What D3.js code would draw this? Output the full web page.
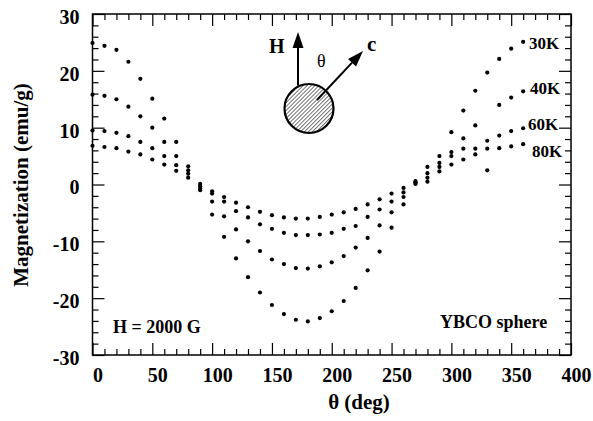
<!DOCTYPE html>
<html><head><meta charset="utf-8">
<script src="https://cdn.jsdelivr.net/npm/d3@7"></script>
<style>
body{margin:0;background:#fff;}
text{font-family:"Liberation Serif","Times New Roman",serif;font-weight:bold;fill:#000;}
</style></head>
<body><svg id="c" width="593" height="421"></svg>
<script>
const angles = [0,10,20,30,40,50,60,70,80,90,100,110,120,130,140,150,160,170,180,190,200,210,220,230,240,250,260,270,280,290,300,310,320,330,340,350,360];
const m30K = [24.9,24.4,23.7,21.6,18.6,15.1,11.6,7.5,3.2,-1.0,-5.3,-9.2,-13.0,-16.3,-19.0,-21.2,-22.8,-23.8,-24.1,-23.5,-22.3,-20.5,-18.2,-15.1,-11.8,-7.6,-3.5,0.6,3.1,5.0,9.2,13.0,16.5,19.7,22.1,23.9,25.1];
const m40K = [15.8,15.6,15.0,13.7,12.0,10.0,7.5,5.0,2.5,-0.7,-3.0,-5.6,-7.9,-10.0,-11.7,-13.2,-14.0,-14.7,-14.8,-14.4,-13.7,-12.6,-11.1,-9.4,-7.2,-4.9,-2.2,0.4,2.0,3.8,5.7,8.1,10.4,2.5,14.0,15.3,16.4];
const m60K = [9.5,9.4,9.1,8.5,7.5,6.4,5.0,3.4,1.9,-0.3,-1.6,-3.0,-4.7,-5.8,-7.0,-7.8,-8.5,-8.9,-8.9,-8.8,-8.5,-7.8,-7.3,-5.7,-4.4,-3.0,-1.4,0.3,1.2,3.1,5.0,6.3,6.3,7.7,8.6,9.4,9.9];
const m80K = [6.8,6.6,6.4,5.8,5.3,4.4,3.5,2.4,1.2,0.1,-1.2,-2.2,-3.2,-4.0,-4.8,-5.4,-5.8,-6.0,-6.0,-5.7,-5.3,-4.9,-4.3,-3.5,-2.6,-1.6,-0.6,0.1,0.5,2.3,3.5,4.4,5.3,6.3,6.4,6.7,7.1];
const seriesNames = ["30K","40K","60K","80K"];
const xTicks = [0,50,100,150,200,250,300,350,400];
const yTicks = [-30,-20,-10,0,10,20,30];

const svg = d3.select("#c");
const L=92.5,R=571,T=14,B=355;
const x = d3.scaleLinear().domain([0,400]).range([L,R]);
const y = d3.scaleLinear().domain([-30,30]).range([B,T]);
const fmt = d => String(d).replace("\u2212","-");

// frame
svg.append("rect").attr("x",L).attr("y",T).attr("width",R-L).attr("height",B-T)
  .attr("fill","none").attr("stroke","#000").attr("stroke-width",1.5);

const minorX = d3.range(0,401,10).filter(v=>v%50!==0);
const minorY = d3.range(-30,31,2).filter(v=>v%10!==0);

function styleAxis(g){ g.select(".domain").remove(); g.selectAll("line").attr("stroke","#000").attr("stroke-width",1.2); }

// bottom
svg.append("g").attr("transform",`translate(0,${B})`)
  .call(d3.axisBottom(x).tickValues(xTicks).tickFormat(fmt).tickSizeInner(-12).tickSizeOuter(0).tickPadding(13))
  .call(styleAxis)
  .call(g=>g.selectAll("text").attr("font-size",20).attr("dx",5).style("font-family","Liberation Serif").style("font-weight","bold"));
svg.append("g").attr("transform",`translate(0,${B})`)
  .call(d3.axisBottom(x).tickValues(minorX).tickFormat("").tickSizeInner(-6).tickSizeOuter(0)).call(styleAxis);
// top
svg.append("g").attr("transform",`translate(0,${T})`)
  .call(d3.axisTop(x).tickValues(xTicks).tickFormat("").tickSizeInner(-12).tickSizeOuter(0)).call(styleAxis);
svg.append("g").attr("transform",`translate(0,${T})`)
  .call(d3.axisTop(x).tickValues(minorX).tickFormat("").tickSizeInner(-6).tickSizeOuter(0)).call(styleAxis);
// left
svg.append("g").attr("transform",`translate(${L},0)`)
  .call(d3.axisLeft(y).tickValues(yTicks).tickFormat(fmt).tickSizeInner(-12).tickSizeOuter(0).tickPadding(13))
  .call(styleAxis)
  .call(g=>g.selectAll("text").attr("font-size",20).attr("dy","0.47em").style("font-family","Liberation Serif").style("font-weight","bold"));
svg.append("g").attr("transform",`translate(${L},0)`)
  .call(d3.axisLeft(y).tickValues(minorY).tickFormat("").tickSizeInner(-6).tickSizeOuter(0)).call(styleAxis);
// right
svg.append("g").attr("transform",`translate(${R},0)`)
  .call(d3.axisRight(y).tickValues(yTicks).tickFormat("").tickSizeInner(-12).tickSizeOuter(0)).call(styleAxis);
svg.append("g").attr("transform",`translate(${R},0)`)
  .call(d3.axisRight(y).tickValues(minorY).tickFormat("").tickSizeInner(-6).tickSizeOuter(0)).call(styleAxis);

// titles
svg.append("text").attr("transform","translate(28,185) rotate(-90)").attr("text-anchor","middle")
  .attr("font-size",21).text("Magnetization (emu/g)");
svg.append("text").attr("x",359).attr("y",409).attr("text-anchor","middle").attr("font-size",21).text("θ (deg)");

// data points
const allSeries = [m30K,m40K,m60K,m80K];
allSeries.forEach(vals=>{
  svg.append("g").selectAll("circle").data(angles.map((a,i)=>[a,vals[i]])).join("circle")
    .attr("cx",d=>x(d[0])).attr("cy",d=>y(d[1])).attr("r",2.1).attr("fill","#000");
});

// series labels
const labPos = [[529,48.5],[530,93.5],[528,130],[532,156.5]];
seriesNames.forEach((n,i)=>{
  svg.append("text").attr("x",labPos[i][0]).attr("y",labPos[i][1]).attr("font-size",17).text(n);
});

svg.append("text").attr("x",113).attr("y",333).attr("font-size",18).text("H = 2000 G");
svg.append("text").attr("x",440).attr("y",328).attr("font-size",18).text("YBCO sphere");

// inset diagram
const defs = svg.append("defs");
const pat = defs.append("pattern").attr("id","hatch").attr("patternUnits","userSpaceOnUse")
  .attr("width",2.8).attr("height",2.8).attr("patternTransform","rotate(45)");
pat.append("line").attr("x1",0).attr("y1",0).attr("x2",0).attr("y2",2.8).attr("stroke","#000").attr("stroke-width",1.1);
const cx=309, cy=108.5, cr=24.5;
svg.append("circle").attr("cx",cx).attr("cy",cy).attr("r",cr).attr("fill","url(#hatch)").attr("stroke","#000").attr("stroke-width",2.2);
// H arrow
svg.append("line").attr("x1",298).attr("y1",cy-cr+1.5).attr("x2",298).attr("y2",45).attr("stroke","#000").attr("stroke-width",2);
svg.append("path").attr("d","M298,32 L292.5,48 L303.5,48 Z").attr("fill","#000");
// c arrow
const bx=317, by=100, tx=363, ty=51;
const ang=Math.atan2(ty-by,tx-bx), hl=16, hw=5.5;
const hx=tx-hl*Math.cos(ang), hy=ty-hl*Math.sin(ang);
svg.append("line").attr("x1",bx).attr("y1",by).attr("x2",hx).attr("y2",hy).attr("stroke","#000").attr("stroke-width",2);
svg.append("path").attr("d",`M${tx},${ty} L${hx+hw*Math.sin(ang)},${hy-hw*Math.cos(ang)} L${hx-hw*Math.sin(ang)},${hy+hw*Math.cos(ang)} Z`).attr("fill","#000");
svg.append("text").attr("x",269).attr("y",53).attr("font-size",20).text("H");
svg.append("text").attr("x",317).attr("y",67).attr("font-size",18).style("font-weight","normal").text("θ");
svg.append("text").attr("x",367).attr("y",51).attr("font-size",21).text("c");
</script></body></html>
